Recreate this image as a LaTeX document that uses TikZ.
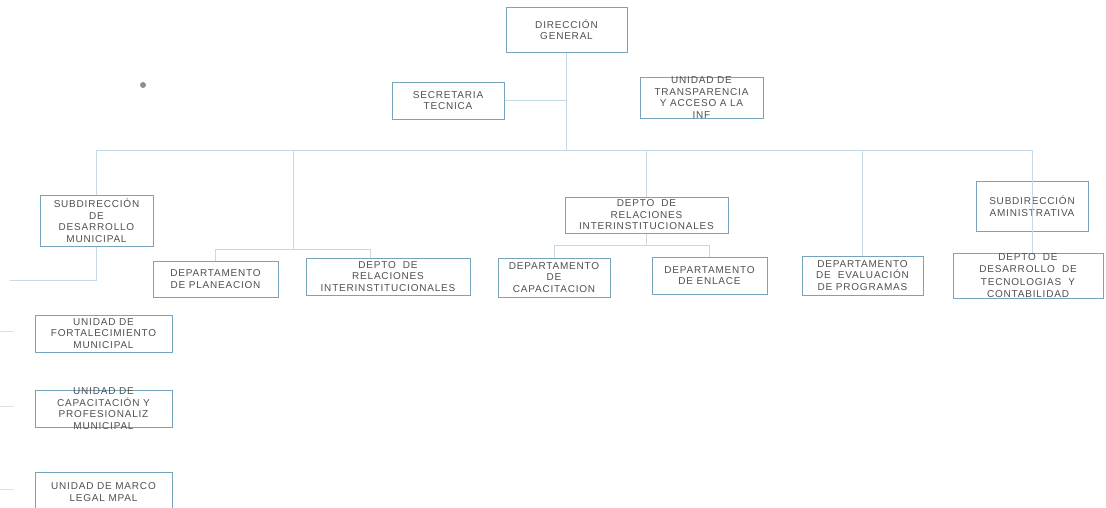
\documentclass[tikz,border=0pt]{standalone}
\usepackage{fontspec}
\setmainfont{Liberation Sans}[LetterSpace=8]
\definecolor{boxc}{RGB}{118,163,190}
\definecolor{linec}{RGB}{198,217,230}
\definecolor{txtc}{RGB}{80,80,80}
\definecolor{dotc}{RGB}{150,140,135}
\newcommand\orgnode[6]{%
  \node[orgbox, minimum width=#4pt, minimum height=#5pt] (#1) at (#2,#3) {};
  \node[orgtxt] (#1t) at (#1) {#6};}
\begin{document}
\begin{tikzpicture}[x=1pt,y=-1pt,
  orgbox/.style={draw=boxc, line width=1pt, inner sep=0pt},
  orgtxt/.style={text=txtc, align=center, inner sep=0pt, font=\fontsize{10}{11.5}\selectfont},
  conn/.style={draw=linec, line width=1pt},
  faint/.style={draw=black!12, line width=1pt}]
\useasboundingbox[fill=white] (0,0) rectangle (1106,507);

% boxes
\orgnode{dg}{566.5}{29.5}{121}{45}{DIRECCIÓN\\GENERAL}
\orgnode{sec}{448}{100.5}{112}{37}{SECRETARIA\\TECNICA}
\orgnode{ut}{701.5}{97.5}{123}{41}{UNIDAD DE\\TRANSPARENCIA\\Y ACCESO A LA\\INF}
\orgnode{sdm}{96.5}{220.5}{113}{51}{SUBDIRECCIÓN\\DE\\DESARROLLO\\MUNICIPAL}
\orgnode{dp}{215.5}{279}{125}{36}{DEPARTAMENTO\\DE PLANEACION}
\orgnode{dri1}{388}{276.5}{164}{37}{DEPTO\ \ DE\\RELACIONES\\INTERINSTITUCIONALES}
\orgnode{dri2}{646.5}{215}{163}{36}{DEPTO\ \ DE\\RELACIONES\\INTERINSTITUCIONALES}
\orgnode{dc}{554}{277.5}{112}{39}{DEPARTAMENTO\\DE\\CAPACITACION}
\orgnode{de}{709.5}{275.5}{115}{37}{DEPARTAMENTO\\DE ENLACE}
\orgnode{dev}{862.5}{275.5}{121}{39}{DEPARTAMENTO\\DE\ \ EVALUACIÓN\\DE PROGRAMAS}
\orgnode{sa}{1032}{206}{112}{50}{SUBDIRECCIÓN\\AMINISTRATIVA}
\orgnode{ddt}{1028}{275.5}{150}{45}{DEPTO\ \ DE\\[1pt]DESARROLLO\ \ DE\\[1pt]TECNOLOGIAS\ \ Y\\[1pt]CONTABILIDAD}
\orgnode{uf}{103.5}{333.5}{137}{37}{UNIDAD DE\\FORTALECIMIENTO\\MUNICIPAL}
\orgnode{uc}{103.5}{408.5}{137}{37}{UNIDAD DE\\CAPACITACIÓN Y\\PROFESIONALIZ\\MUNICIPAL}
\node[orgbox, minimum width=137pt, minimum height=42pt] (um) at (103.5,493) {};
\node[orgtxt] (umt) at (103.5,492) {UNIDAD DE MARCO\\LEGAL MPAL};

% junction points
\coordinate (hub) at (566.5,150);
\coordinate (g1) at (293,249);
\coordinate (g2) at (646.5,245);
\coordinate (sdmL) at (10,280);

% connectors
\draw[conn] (dg.south) -- (hub);
\draw[conn] (sec.east) -- (sec.east -| dg.south);
\draw[conn] (hub) -| (sdm.north);
\draw[conn] (hub) -| (g1);
\draw[conn] (hub) -| (dri2.north);
\draw[conn] (hub) -| (dev.north);
\draw[conn] (hub) -| (sa.north);
\draw[conn] (sa.north) -- (sa.north |- ddt.north);
\draw[conn] (g1) -| (dp.north);
\draw[conn] (g1) -| ([xshift=-18pt]dri1.north);
\draw[conn] (sdm.south) |- (sdmL);
\draw[conn] (dri2.south) -- (g2);
\draw[conn] (g2) -| (dc.north);
\draw[conn] (g2) -| (de.north);

% faint scan remnants
\coordinate (f1) at (0,331);
\coordinate (f2) at (0,406);
\coordinate (f3) at (0,489);
\draw[faint] (f1) -- ++(14,0);
\draw[faint] (f2) -- ++(14,0);
\draw[faint] (f3) -- ++(14,0);
\fill[dotc] (143,85) circle (3pt);
\end{tikzpicture}
\end{document}
